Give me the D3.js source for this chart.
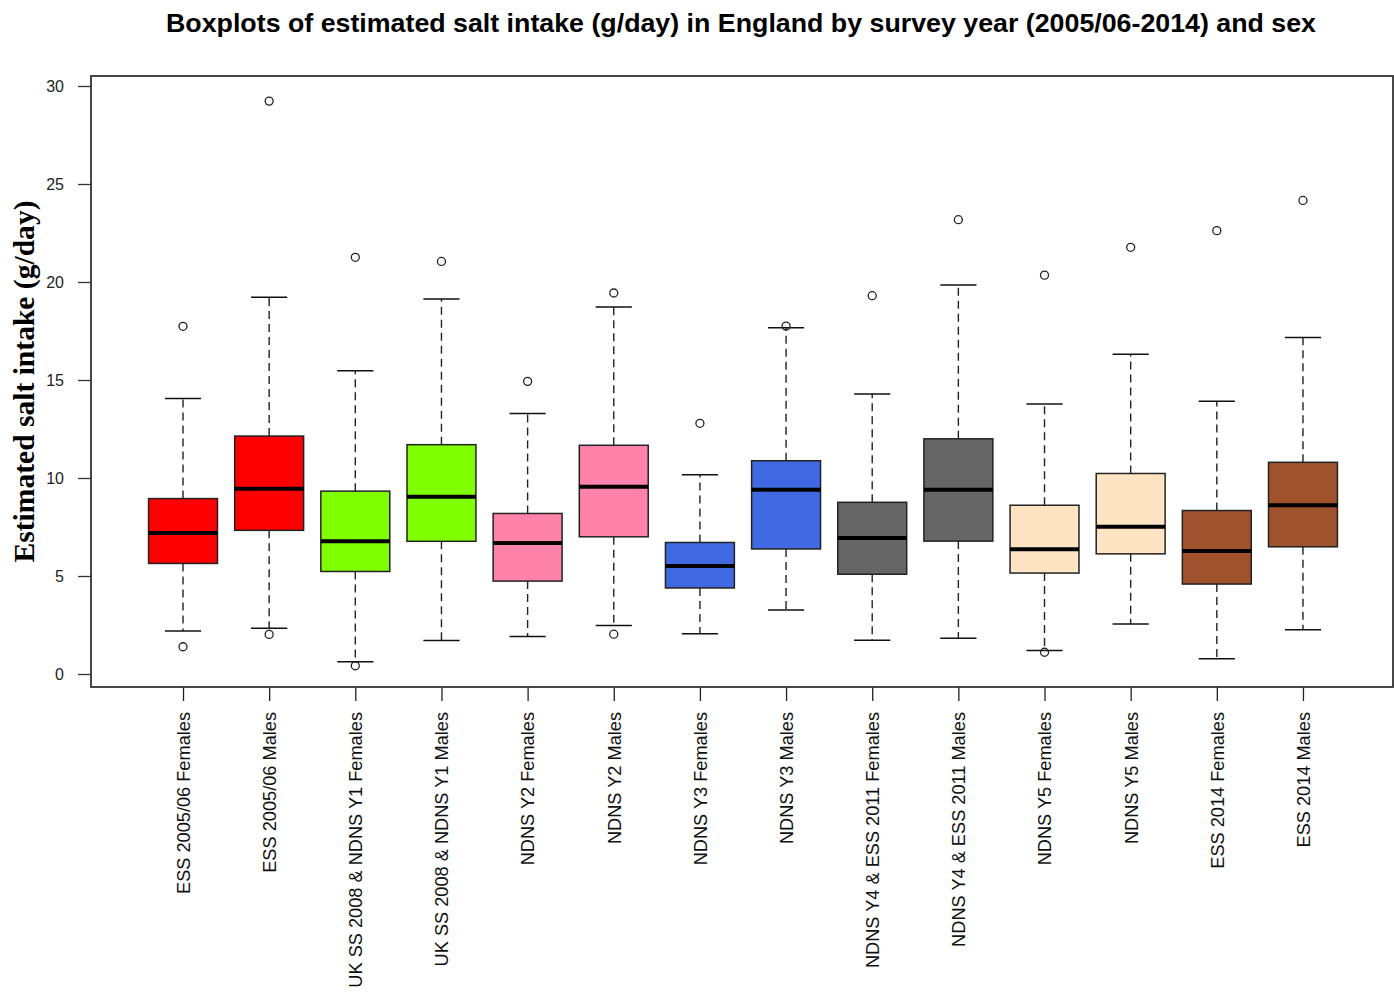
<!DOCTYPE html>
<html>
<head>
<meta charset="utf-8">
<script src="https://cdn.jsdelivr.net/npm/d3@7"></script>
<style>
  html, body { margin: 0; padding: 0; background: #fff; }
  svg { display: block; }
</style>
</head>
<body>
<svg id="chart" width="1394" height="993"></svg>
<script>
// ---- Data ----
const categories = [
  "ESS 2005/06 Females", "ESS 2005/06 Males",
  "UK SS 2008 & NDNS Y1 Females", "UK SS 2008 & NDNS Y1 Males",
  "NDNS Y2 Females", "NDNS Y2 Males",
  "NDNS Y3 Females", "NDNS Y3 Males",
  "NDNS Y4 & ESS 2011 Females", "NDNS Y4 & ESS 2011 Males",
  "NDNS Y5 Females", "NDNS Y5 Males",
  "ESS 2014 Females", "ESS 2014 Males"
];
const whiskerLow  = [2.19, 2.33, 0.62, 1.71, 1.91, 2.47, 2.05, 3.26, 1.72, 1.82, 1.20, 2.55, 0.78, 2.26];
const q1          = [5.64, 7.33, 5.23, 6.77, 4.74, 7.00, 4.39, 6.38, 5.09, 6.78, 5.15, 6.13, 4.59, 6.49];
const medians     = [7.20, 9.45, 6.77, 9.04, 6.69, 9.55, 5.51, 9.40, 6.94, 9.40, 6.36, 7.51, 6.28, 8.61];
const q3          = [8.95, 12.14, 9.33, 11.70, 8.19, 11.67, 6.71, 10.88, 8.76, 12.00, 8.61, 10.23, 8.34, 10.80];
const whiskerHigh = [14.05, 19.22, 15.47, 19.13, 13.29, 18.73, 10.17, 17.67, 14.29, 19.85, 13.77, 16.31, 13.92, 17.17];
const outliers    = [
  [17.74, 1.39], [29.23, 2.02], [21.26, 0.42], [21.05],
  [14.93], [19.44, 2.03], [12.79], [17.75],
  [19.30], [23.18], [20.35, 1.11], [21.77],
  [22.62], [24.16]
];
const boxColors = [
  "#FF0000", "#FF0000", "#7FFF00", "#7FFF00", "#FF82AB", "#FF82AB", "#4169E1",
  "#4169E1", "#666666", "#666666", "#FFE4C4", "#FFE4C4", "#A0522D", "#A0522D"
];
const yTicks = [0, 5, 10, 15, 20, 25, 30];
const titleText = "Boxplots of estimated salt intake (g/day) in England by survey year (2005/06-2014) and sex";
const yLabelText = "Estimated salt intake (g/day)";

// ---- Layout ----
const svg = d3.select("#chart");
const plot = { left: 91, right: 1393, top: 76, bottom: 687 };

const x = d3.scaleLinear().domain([-0.068, 15.045]).range([plot.left, plot.right]);
const y = d3.scaleLinear().domain([-0.663, 30.51]).range([plot.bottom, plot.top]);
const boxHalf = 0.4;     // in x units
const capHalf = 0.21;

const data = categories.map((c, i) => ({
  name: c, pos: i + 1, lo: whiskerLow[i], q1: q1[i], med: medians[i],
  q3: q3[i], hi: whiskerHigh[i], out: outliers[i], color: boxColors[i]
}));

// Title
svg.append("text")
  .attr("x", 741).attr("y", 32)
  .attr("text-anchor", "middle")
  .attr("textLength", 1150)
  .attr("lengthAdjust", "spacingAndGlyphs")
  .style("font-family", "'Liberation Sans', Arial, sans-serif")
  .style("font-weight", "bold")
  .style("font-size", "26px")
  .attr("fill", "#000")
  .text(titleText);

// Y axis label
svg.append("text")
  .attr("transform", `translate(34, ${(plot.top + plot.bottom) / 2}) rotate(-90)`)
  .attr("text-anchor", "middle")
  .attr("textLength", 362)
  .attr("lengthAdjust", "spacingAndGlyphs")
  .style("font-family", "'Liberation Serif', 'Times New Roman', serif")
  .style("font-weight", "bold")
  .style("font-size", "29px")
  .attr("fill", "#000")
  .text(yLabelText);

// Y axis (ticks + labels)
const yAxis = d3.axisLeft(y).tickValues(yTicks).tickSize(13).tickPadding(14).tickFormat(d3.format("d"));
const gy = svg.append("g").attr("transform", `translate(${plot.left},0)`).call(yAxis);
gy.select(".domain").remove();
gy.selectAll(".tick line").attr("stroke", "#333").attr("stroke-width", 1.3);
gy.selectAll(".tick text")
  .style("font-family", "'Liberation Sans', Arial, sans-serif")
  .style("font-size", "16px")
  .attr("fill", "#222");

// X axis (ticks + rotated labels)
const xAxis = d3.axisBottom(x).tickValues(data.map(d => d.pos)).tickSize(14).tickFormat((d) => categories[d - 1]);
const gx = svg.append("g").attr("transform", `translate(0,${plot.bottom})`).call(xAxis);
gx.select(".domain").remove();
gx.selectAll(".tick line").attr("stroke", "#222").attr("stroke-width", 1.3);
gx.selectAll(".tick text")
  .attr("transform", "rotate(-90)")
  .attr("x", -25).attr("y", 0).attr("dy", "0.35em")
  .attr("text-anchor", "end")
  .style("font-family", "'Liberation Sans', Arial, sans-serif")
  .style("font-size", "18.2px")
  .attr("fill", "#111");

// Boxes
const g = svg.append("g");
const boxes = g.selectAll("g.box").data(data).join("g").attr("class", "box");

// whiskers (dashed)
boxes.append("line")
  .attr("x1", d => x(d.pos)).attr("x2", d => x(d.pos))
  .attr("y1", d => y(d.q3)).attr("y2", d => y(d.hi))
  .attr("stroke", "#222").attr("stroke-width", 1.4).attr("stroke-dasharray", "8,5");
boxes.append("line")
  .attr("x1", d => x(d.pos)).attr("x2", d => x(d.pos))
  .attr("y1", d => y(d.q1)).attr("y2", d => y(d.lo))
  .attr("stroke", "#222").attr("stroke-width", 1.4).attr("stroke-dasharray", "8,5");
// staples
boxes.append("line")
  .attr("x1", d => x(d.pos - capHalf)).attr("x2", d => x(d.pos + capHalf))
  .attr("y1", d => y(d.hi)).attr("y2", d => y(d.hi))
  .attr("stroke", "#111").attr("stroke-width", 1.5);
boxes.append("line")
  .attr("x1", d => x(d.pos - capHalf)).attr("x2", d => x(d.pos + capHalf))
  .attr("y1", d => y(d.lo)).attr("y2", d => y(d.lo))
  .attr("stroke", "#111").attr("stroke-width", 1.5);
// box
boxes.append("rect")
  .attr("x", d => x(d.pos - boxHalf))
  .attr("width", d => x(d.pos + boxHalf) - x(d.pos - boxHalf))
  .attr("y", d => y(d.q3))
  .attr("height", d => y(d.q1) - y(d.q3))
  .attr("fill", d => d.color)
  .attr("stroke", "#222").attr("stroke-width", 1.5);
// median
boxes.append("line")
  .attr("x1", d => x(d.pos - boxHalf)).attr("x2", d => x(d.pos + boxHalf))
  .attr("y1", d => y(d.med)).attr("y2", d => y(d.med))
  .attr("stroke", "#000").attr("stroke-width", 4);
// outliers
boxes.selectAll("circle")
  .data(d => d.out.map(v => ({ pos: d.pos, v })))
  .join("circle")
  .attr("cx", d => x(d.pos)).attr("cy", d => y(d.v))
  .attr("r", 4)
  .attr("fill", "none").attr("stroke", "#222").attr("stroke-width", 1.3);

// Plot frame
svg.append("rect")
  .attr("x", plot.left).attr("y", plot.top)
  .attr("width", plot.right - plot.left).attr("height", plot.bottom - plot.top)
  .attr("fill", "none").attr("stroke", "#333").attr("stroke-width", 1.8);
</script>
</body>
</html>
